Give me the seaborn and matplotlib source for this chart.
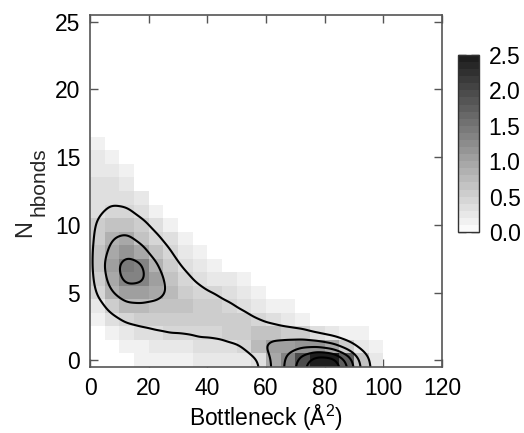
import numpy as np
import pandas as pd
import matplotlib
matplotlib.use("Agg")
import matplotlib.pyplot as plt
import seaborn as sns
from matplotlib.colors import ListedColormap
from matplotlib.ticker import MultipleLocator, FormatStrFormatter

sns.set_style("ticks")
plt.rcParams["font.family"] = ["Liberation Sans", "DejaVu Sans"]
plt.rcParams["mathtext.fontset"] = "custom"
plt.rcParams["mathtext.rm"] = "Liberation Sans"
plt.rcParams["mathtext.it"] = "Liberation Sans:italic"

# bins: bottleneck in 5 A^2 steps, hydrogen bonds as integers
x_edges = np.arange(0, 125, 5)
y_edges = np.arange(-0.5, 26, 1)

# log10 population, one row per N_hbonds (0..16), columns x = 0-5, 5-10, ... 95-100
log_pop = [
    [0, 0, 0, .10, .10, .15, .15, .20, .20, .20, .20, .30, .90, 1.3, 1.9, 2.5, 2.5, 1.7, .70, .20],   # 0
    [0, 0, .10, .15, .20, .25, .25, .30, .30, .35, .40, .75, 1.0, 1.05, 1.15, 1.1, .90, .55, .25, .10],# 1
    [0, .15, .25, .30, .35, .40, .40, .45, .45, .50, .55, .60, .60, .55, .50, .35, .25, .15, .10, 0],  # 2
    [.10, .30, .45, .50, .55, .55, .55, .55, .55, .55, .50, .40, .30, .20, .15, 0, 0, 0, 0, 0],        # 3
    [.25, .55, .75, .75, .70, .65, .60, .55, .50, .45, .35, .25, .15, .10, 0, 0, 0, 0, 0, 0],          # 4
    [.45, .80, 1.0, 1.0, .95, .75, .55, .45, .40, .30, .20, .10, 0, 0, 0, 0, 0, 0, 0, 0],             # 5
    [.55, .95, 1.4, 1.3, 1.0, .65, .45, .35, .25, .20, .15, 0, 0, 0, 0, 0, 0, 0, 0, 0],               # 6
    [.60, 1.05, 1.45, 1.3, .85, .50, .35, .25, .15, 0, 0, 0, 0, 0, 0, 0, 0, 0, 0, 0],                 # 7
    [.60, .90, 1.1, .95, .60, .40, .25, .15, 0, 0, 0, 0, 0, 0, 0, 0, 0, 0, 0, 0],                     # 8
    [.55, .80, .90, .70, .45, .30, .15, 0, 0, 0, 0, 0, 0, 0, 0, 0, 0, 0, 0, 0],                       # 9
    [.50, .65, .65, .50, .30, .15, 0, 0, 0, 0, 0, 0, 0, 0, 0, 0, 0, 0, 0, 0],                         # 10
    [.35, .45, .45, .30, .15, 0, 0, 0, 0, 0, 0, 0, 0, 0, 0, 0, 0, 0, 0, 0],                           # 11
    [.30, .35, .30, .20, 0, 0, 0, 0, 0, 0, 0, 0, 0, 0, 0, 0, 0, 0, 0, 0],                             # 12
    [.30, .30, .20, 0, 0, 0, 0, 0, 0, 0, 0, 0, 0, 0, 0, 0, 0, 0, 0, 0],                               # 13
    [.25, .20, .15, 0, 0, 0, 0, 0, 0, 0, 0, 0, 0, 0, 0, 0, 0, 0, 0, 0],                               # 14
    [.20, .15, 0, 0, 0, 0, 0, 0, 0, 0, 0, 0, 0, 0, 0, 0, 0, 0, 0, 0],                                 # 15
    [.15, 0, 0, 0, 0, 0, 0, 0, 0, 0, 0, 0, 0, 0, 0, 0, 0, 0, 0, 0],                                   # 16
]
contour_levels = [0.4, 0.8, 1.2, 1.6, 2.0, 2.4]

# full grid of cell centres (zeros outside the listed part)
xc = (x_edges[:-1] + x_edges[1:]) / 2
yc = (y_edges[:-1] + y_edges[1:]) / 2
V = np.zeros((len(yc), len(xc)))
pop = np.array(log_pop)
V[:pop.shape[0], :pop.shape[1]] = pop

XX, YY = np.meshgrid(xc, yc)
df = pd.DataFrame({"bottleneck": XX.ravel(), "nhbonds": YY.ravel(), "logn": V.ravel()})
df = df[df["logn"] > 0]

# greys from white to near-black, 25 steps of 0.1
shades = 1 - 0.36 * (np.arange(25) + 0.5) / 10
cmap = ListedColormap([(g, g, g) for g in shades])

fig = plt.figure(figsize=(5.24, 4.33), dpi=100)
ax = fig.add_axes([0.1718, 0.1524, 0.6718, 0.8130])
cax = fig.add_axes([0.874, 0.4642, 0.040, 0.4088])

sns.histplot(data=df, x="bottleneck", y="nhbonds", weights="logn",
             bins=[x_edges, y_edges], cmap=cmap, vmin=0, vmax=2.5,
             cbar=True, cbar_ax=cax, ax=ax)

# smoothed surface for the contour lines (fades out past x = 0)
gx = np.linspace(0, 120, 481)
gy = np.linspace(-0.5, 25.5, 261)
sx, sy = 3.0, 0.6
kx = np.exp(-(gx[:, None] - xc[None, :]) ** 2 / (2 * sx ** 2))
ky = np.exp(-(gy[:, None] - yc[None, :]) ** 2 / (2 * sy ** 2))
Z = ky @ V @ kx.T / (ky.sum(1)[:, None] * np.sqrt(2 * np.pi) * sx / 5)
ax.contour(gx, gy, Z, levels=contour_levels, colors="black", linewidths=1.5)

fs = 16.5
ax.set_xlim(0, 120)
ax.set_ylim(-0.5, 25.5)
ax.set_xticks(np.arange(0, 121, 20))
ax.set_yticks(np.arange(0, 26, 5))
ax.set_xlabel("Bottleneck (Å$^2$)", fontsize=fs, labelpad=2, color="black")
ax.set_ylabel("")
ax.tick_params(direction="in", length=6, width=1, color="#555555",
               top=True, right=True, labelsize=fs, labelcolor="black", pad=7)
for s in ax.spines.values():
    s.set_color("#555555")
    s.set_linewidth(1.2)

# y label with a full-height subscript, as in the original
fig.text(31 / 524, 1 - 237 / 433, "N", rotation=90, rotation_mode="anchor",
         ha="left", va="baseline", fontsize=17)
fig.text(45 / 524, 1 - 216 / 433, "hbonds", rotation=90, rotation_mode="anchor",
         ha="left", va="baseline", fontsize=15)

cax.yaxis.set_major_locator(MultipleLocator(0.5))
cax.yaxis.set_minor_locator(MultipleLocator(0.1))
cax.yaxis.set_major_formatter(FormatStrFormatter("%.1f"))
cax.tick_params(which="major", direction="in", length=6, width=1, left=True,
                labelsize=fs, labelcolor="black", pad=7)
cax.tick_params(which="minor", direction="in", length=3, width=0.8, left=True, right=True)
cax.set_ylabel("")
for s in cax.spines.values():
    s.set_linewidth(1)
    s.set_color("#333333")

fig.savefig("out.png", dpi=100)
